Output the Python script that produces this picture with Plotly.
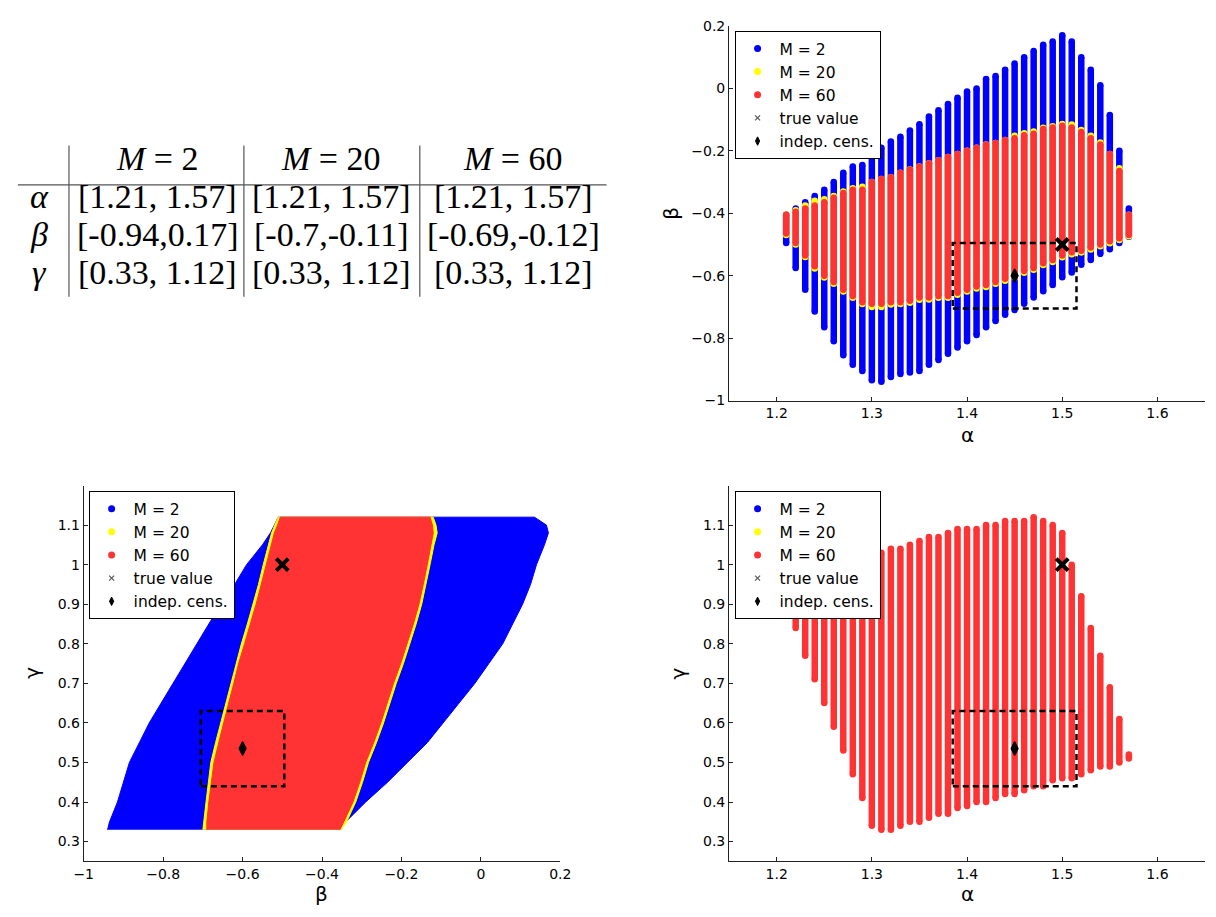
import plotly.graph_objects as go

W, H = 1216, 917
SANS = "DejaVu Sans, Verdana, sans-serif"
SERIF = "Liberation Serif, Times New Roman, serif"
BLUE, YELLOW, RED = "#0000FF", "#FFFF00", "#FF3333"

# ---------------- table values ----------------
tbl_cols = ["<i>M</i> = 2", "<i>M</i> = 20", "<i>M</i> = 60"]
tbl_rows = ["<i>α</i>", "<i>β</i>", "<i>γ</i>"]
tbl_cells = [["[1.21, 1.57]", "[1.21, 1.57]", "[1.21, 1.57]"],
             ["[-0.94,0.17]", "[-0.7,-0.11]", "[-0.69,-0.12]"],
             ["[0.33, 1.12]", "[0.33, 1.12]", "[0.33, 1.12]"]]

# ---------------- alpha grid (strips) ----------------
alpha = [1.21, 1.22, 1.23, 1.24, 1.25, 1.26, 1.27, 1.28, 1.29, 1.30,
         1.31, 1.32, 1.33, 1.34, 1.35, 1.36, 1.37, 1.38, 1.39, 1.40,
         1.41, 1.42, 1.43, 1.44, 1.45, 1.46, 1.47, 1.48, 1.49, 1.50,
         1.51, 1.52, 1.53, 1.54, 1.55, 1.56, 1.57]

# beta ranges per alpha (top-right panel)
beta_hi_M2 = [-0.405, -0.385, -0.365, -0.345, -0.325, -0.30, -0.27, -0.25, -0.245, -0.215,
              -0.19, -0.17, -0.155, -0.135, -0.115, -0.09, -0.07, -0.05, -0.03, -0.01,
              0.0, 0.03, 0.04, 0.06, 0.08, 0.10, 0.12, 0.14, 0.15, 0.17,
              0.15, 0.10, 0.06, 0.01, -0.085, -0.20, -0.385]
beta_lo_M2 = [-0.495, -0.575, -0.645, -0.715, -0.765, -0.81, -0.855, -0.885, -0.905, -0.935,
              -0.94, -0.925, -0.915, -0.91, -0.905, -0.885, -0.87, -0.85, -0.83, -0.81,
              -0.79, -0.765, -0.745, -0.725, -0.71, -0.69, -0.67, -0.65, -0.63, -0.605,
              -0.59, -0.565, -0.55, -0.53, -0.515, -0.495, -0.475]
beta_hi_M20 = [-0.405, -0.39, -0.375, -0.36, -0.355, -0.345, -0.33, -0.32, -0.315, -0.30,
               -0.29, -0.285, -0.27, -0.26, -0.25, -0.24, -0.23, -0.22, -0.21, -0.20,
               -0.19, -0.18, -0.175, -0.165, -0.152, -0.144, -0.138, -0.126, -0.121, -0.114,
               -0.116, -0.133, -0.152, -0.173, -0.21, -0.256, -0.405]
beta_lo_M20 = [-0.47, -0.50, -0.54, -0.577, -0.606, -0.626, -0.651, -0.671, -0.691, -0.70,
               -0.70, -0.692, -0.691, -0.687, -0.677, -0.676, -0.671, -0.671, -0.661, -0.651,
               -0.641, -0.636, -0.626, -0.616, -0.606, -0.591, -0.581, -0.566, -0.556, -0.541,
               -0.531, -0.526, -0.516, -0.506, -0.496, -0.486, -0.474]
beta_hi_M60 = [-0.405, -0.395, -0.385, -0.375, -0.365, -0.35, -0.335, -0.325, -0.325, -0.30,
               -0.29, -0.285, -0.27, -0.26, -0.25, -0.24, -0.23, -0.22, -0.21, -0.20,
               -0.19, -0.18, -0.175, -0.165, -0.16, -0.15, -0.145, -0.13, -0.125, -0.12,
               -0.125, -0.14, -0.16, -0.18, -0.21, -0.265, -0.405]
beta_lo_M60 = [-0.465, -0.495, -0.535, -0.57, -0.60, -0.62, -0.645, -0.665, -0.685, -0.69,
               -0.69, -0.685, -0.685, -0.68, -0.67, -0.67, -0.665, -0.665, -0.655, -0.645,
               -0.635, -0.63, -0.62, -0.61, -0.60, -0.585, -0.575, -0.56, -0.55, -0.535,
               -0.525, -0.52, -0.51, -0.50, -0.49, -0.48, -0.47]

# gamma ranges per alpha (bottom-right panel, M = 60 on top)
gamma_hi_M60 = [0.93, 0.95, 0.96, 0.97, 0.98, 0.99, 1.00, 1.01, 1.02, 1.03,
                1.03, 1.04, 1.04, 1.05, 1.06, 1.07, 1.07, 1.08, 1.09, 1.09,
                1.09, 1.10, 1.10, 1.11, 1.11, 1.11, 1.12, 1.11, 1.10, 1.08,
                1.00, 0.92, 0.84, 0.77, 0.69, 0.61, 0.52]
gamma_lo_M60 = [0.90, 0.84, 0.77, 0.71, 0.65, 0.59, 0.53, 0.47, 0.41, 0.34,
                0.33, 0.33, 0.34, 0.35, 0.35, 0.36, 0.37, 0.37, 0.385, 0.39,
                0.40, 0.40, 0.41, 0.42, 0.42, 0.43, 0.44, 0.44, 0.455, 0.46,
                0.46, 0.47, 0.48, 0.49, 0.49, 0.50, 0.51]

# ---------------- beta-gamma regions (bottom-left panel) ----------------
gamma_levels = [0.33, 0.35, 0.40, 0.45, 0.50, 0.55, 0.60, 0.65, 0.70, 0.75,
                0.80, 0.85, 0.90, 0.95, 1.00, 1.05, 1.08, 1.10, 1.12]
M2_left = [-0.94, -0.935, -0.915, -0.90, -0.885, -0.86, -0.835, -0.805, -0.775, -0.745,
           -0.715, -0.685, -0.655, -0.62, -0.59, -0.55, -0.53, -0.52, -0.51]
M2_right = [-0.355, -0.34, -0.29, -0.235, -0.185, -0.135, -0.095, -0.055, -0.015, 0.02,
            0.055, 0.08, 0.105, 0.125, 0.14, 0.16, 0.17, 0.165, 0.135]
M20_left = [-0.70, -0.698, -0.692, -0.686, -0.68, -0.668, -0.655, -0.643, -0.63, -0.617,
            -0.603, -0.588, -0.574, -0.56, -0.548, -0.535, -0.527, -0.519, -0.51]
M20_right = [-0.352, -0.338, -0.315, -0.298, -0.283, -0.263, -0.245, -0.229, -0.213, -0.195,
             -0.179, -0.163, -0.149, -0.138, -0.128, -0.118, -0.11, -0.113, -0.12]
M60_left = [-0.69, -0.69, -0.685, -0.678, -0.672, -0.66, -0.648, -0.635, -0.622, -0.61,
            -0.595, -0.58, -0.566, -0.553, -0.54, -0.528, -0.52, -0.512, -0.505]
M60_right = [-0.355, -0.345, -0.322, -0.305, -0.29, -0.27, -0.252, -0.236, -0.22, -0.202,
             -0.186, -0.17, -0.156, -0.145, -0.135, -0.125, -0.12, -0.122, -0.128]

# ---------------- reference points / boxes ----------------
true_alpha, true_beta, true_gamma = 1.5, -0.5, 1.0
ind_alpha, ind_beta, ind_gamma = 1.45, -0.6, 0.535
box_alpha = [1.385, 1.515]
box_beta = [-0.705, -0.495]
box_gamma = [0.44, 0.63]

legend_names = ["M = 2", "M = 20", "M = 60", "true value", "indep. cens."]


def px(x):
    return x / W


def py(y):
    return 1 - y / H


fig = go.Figure()


def strips(xv, lo, hi, color, xa, ya):
    xs, ys = [], []
    for a, l, h in zip(xv, lo, hi):
        xs += [a, a, None]
        ys += [l, h, None]
    fig.add_trace(go.Scatter(x=xs, y=ys, mode="lines+markers", xaxis=xa, yaxis=ya,
                             line=dict(color=color, width=6.5),
                             marker=dict(color=color, size=6.5),
                             showlegend=False, hoverinfo="skip"))


def region(lev, left, right, color, xa, ya):
    xs = list(left) + list(reversed(right))
    ys = list(lev) + list(reversed(lev))
    fig.add_trace(go.Scatter(x=xs, y=ys, mode="lines", fill="toself", fillcolor=color,
                             line=dict(color=color, width=1), xaxis=xa, yaxis=ya,
                             showlegend=False, hoverinfo="skip"))


def box(bx, by, xa, ya):
    fig.add_trace(go.Scatter(x=[bx[0], bx[1], bx[1], bx[0], bx[0]],
                             y=[by[0], by[0], by[1], by[1], by[0]],
                             mode="lines", line=dict(color="black", width=2.5, dash="6px,4px"),
                             xaxis=xa, yaxis=ya, showlegend=False, hoverinfo="skip"))


def points(tx, ty, ix, iy, xa, ya):
    fig.add_trace(go.Scatter(x=[ix], y=[iy], mode="markers", xaxis=xa, yaxis=ya,
                             marker=dict(symbol="diamond-tall", size=9.5, color="black",
                                         line=dict(color="black", width=1.5)),
                             showlegend=False, hoverinfo="skip"))
    fig.add_trace(go.Scatter(x=[tx], y=[ty], mode="markers", xaxis=xa, yaxis=ya,
                             marker=dict(symbol="x-thin", size=12, color="black",
                                         line=dict(color="black", width=4)),
                             showlegend=False, hoverinfo="skip"))


def legend_items(leg, xa, ya):
    specs = [dict(symbol="circle", size=7, color=BLUE),
             dict(symbol="circle", size=7, color=YELLOW),
             dict(symbol="circle", size=7, color=RED),
             dict(symbol="x-thin", size=5, color="#555", line=dict(color="#555", width=1.2)),
             dict(symbol="diamond-tall", size=6, color="black", line=dict(color="black", width=1))]
    for i, (name, mk) in enumerate(zip(legend_names, specs)):
        fig.add_trace(go.Scatter(x=[None], y=[None], mode="markers", name=name, marker=mk,
                                 legend=leg, legendgroup=f"{leg}_{i}", xaxis=xa, yaxis=ya,
                                 showlegend=True))


# top-right: alpha vs beta
strips(alpha, beta_lo_M2, beta_hi_M2, BLUE, "x", "y")
strips(alpha, beta_lo_M20, beta_hi_M20, YELLOW, "x", "y")
strips(alpha, beta_lo_M60, beta_hi_M60, RED, "x", "y")
box(box_alpha, box_beta, "x", "y")
points(true_alpha, true_beta, ind_alpha, ind_beta, "x", "y")
legend_items("legend", "x", "y")

# bottom-left: beta vs gamma
region(gamma_levels, M2_left, M2_right, BLUE, "x2", "y2")
region(gamma_levels, M20_left, M20_right, YELLOW, "x2", "y2")
region(gamma_levels, M60_left, M60_right, RED, "x2", "y2")
box(box_beta, box_gamma, "x2", "y2")
points(true_beta, true_gamma, ind_beta, ind_gamma, "x2", "y2")
legend_items("legend2", "x2", "y2")

# bottom-right: alpha vs gamma
strips(alpha, gamma_lo_M60, gamma_hi_M60, RED, "x3", "y3")
box(box_alpha, box_gamma, "x3", "y3")
points(true_alpha, true_gamma, ind_alpha, ind_gamma, "x3", "y3")
legend_items("legend3", "x3", "y3")


def axis(domain, rng, tv, tt, anchor):
    return dict(domain=domain, range=rng, tickvals=tv, ticktext=tt, anchor=anchor,
                showline=True, linecolor="#222", linewidth=1, ticks="inside", ticklen=4,
                tickcolor="#222", showgrid=False, zeroline=False, mirror=False,
                tickfont=dict(family=SANS, size=14, color="black"), fixedrange=True)


a_tv = [1.2, 1.3, 1.4, 1.5, 1.6]
a_tt = ["1.2", "1.3", "1.4", "1.5", "1.6"]
b_tv = [-1, -0.8, -0.6, -0.4, -0.2, 0, 0.2]
b_tt = ["\u22121", "\u22120.8", "\u22120.6", "\u22120.4", "\u22120.2", "0", "0.2"]
g_tv = [0.3, 0.4, 0.5, 0.6, 0.7, 0.8, 0.9, 1.0, 1.1]
g_tt = ["0.3", "0.4", "0.5", "0.6", "0.7", "0.8", "0.9", "1", "1.1"]

xr = [px(731.7), 1.0]
xl = [px(75), px(560)]
yt = [py(399.5), py(18.3)]
yb = [py(868.5), py(486)]


def leg(xp, yp):
    return dict(x=px(xp), y=py(yp), xanchor="left", yanchor="top", bgcolor="white",
                bordercolor="black", borderwidth=1, tracegroupgap=0, itemwidth=34,
                font=dict(family=SANS, size=15.5, color="black"), itemclick=False,
                itemdoubleclick=False)


annotations = []
# table text
col_x = [150, 327, 512]
row_y = [192, 231, 269]
for cx, t in zip(col_x, tbl_cols):
    annotations.append(dict(x=px(cx), y=py(153), text=t))
for ry, t in zip(row_y, tbl_rows):
    annotations.append(dict(x=px(30), y=py(ry), text=t))
for ry, row in zip(row_y, tbl_cells):
    for cx, t in zip(col_x, row):
        annotations.append(dict(x=px(cx), y=py(ry), text=t))
for a in annotations:
    a.update(xref="paper", yref="paper", xanchor="center", yanchor="middle", showarrow=False,
             font=dict(family=SERIF, size=34, color="black"))

# axis titles
titles = [(974, 435, "α", 0), (317, 902, "β", 0), (974, 902, "α", 0),
          (673, 209, "β", -90), (23, 677, "γ", -90), (680, 677, "γ", -90)]
for tx, ty, t, ang in titles:
    annotations.append(dict(x=px(tx), y=py(ty), xref="paper", yref="paper", text=t,
                            textangle=ang, showarrow=False, xanchor="center", yanchor="middle",
                            font=dict(family=SANS, size=20, color="black")))

shapes = [dict(type="line", xref="paper", yref="paper", x0=px(8), x1=px(607), y0=py(180),
               y1=py(180), line=dict(color="#555", width=1.2))]
for vx in [60, 238, 417]:
    shapes.append(dict(type="line", xref="paper", yref="paper", x0=px(vx), x1=px(vx),
                       y0=py(140), y1=py(294), line=dict(color="#555", width=1.2)))

fig.update_layout(
    width=W, height=H, margin=dict(l=0, r=0, t=0, b=0),
    paper_bgcolor="white", plot_bgcolor="white",
    xaxis=axis(xr, [1.15, 1.65], a_tv, a_tt, "y"),
    yaxis=axis(yt, [-1, 0.2], b_tv, b_tt, "x"),
    xaxis2=axis(xl, [-1, 0.2], b_tv, b_tt, "y2"),
    yaxis2=axis(yb, [0.25, 1.2], g_tv, g_tt, "x2"),
    xaxis3=axis(xr, [1.15, 1.65], a_tv, a_tt, "y3"),
    yaxis3=axis(yb, [0.25, 1.2], g_tv, g_tt, "x3"),
    legend=leg(737.3, 23.3),
    legend2=leg(80, 491.7),
    legend3=leg(737.3, 491.7),
    annotations=annotations,
    shapes=shapes,
    showlegend=True,
)

fig.write_html("out.html", config={"displayModeBar": False},
               post_script="document.body.style.margin='0';document.body.style.overflow='hidden';")
